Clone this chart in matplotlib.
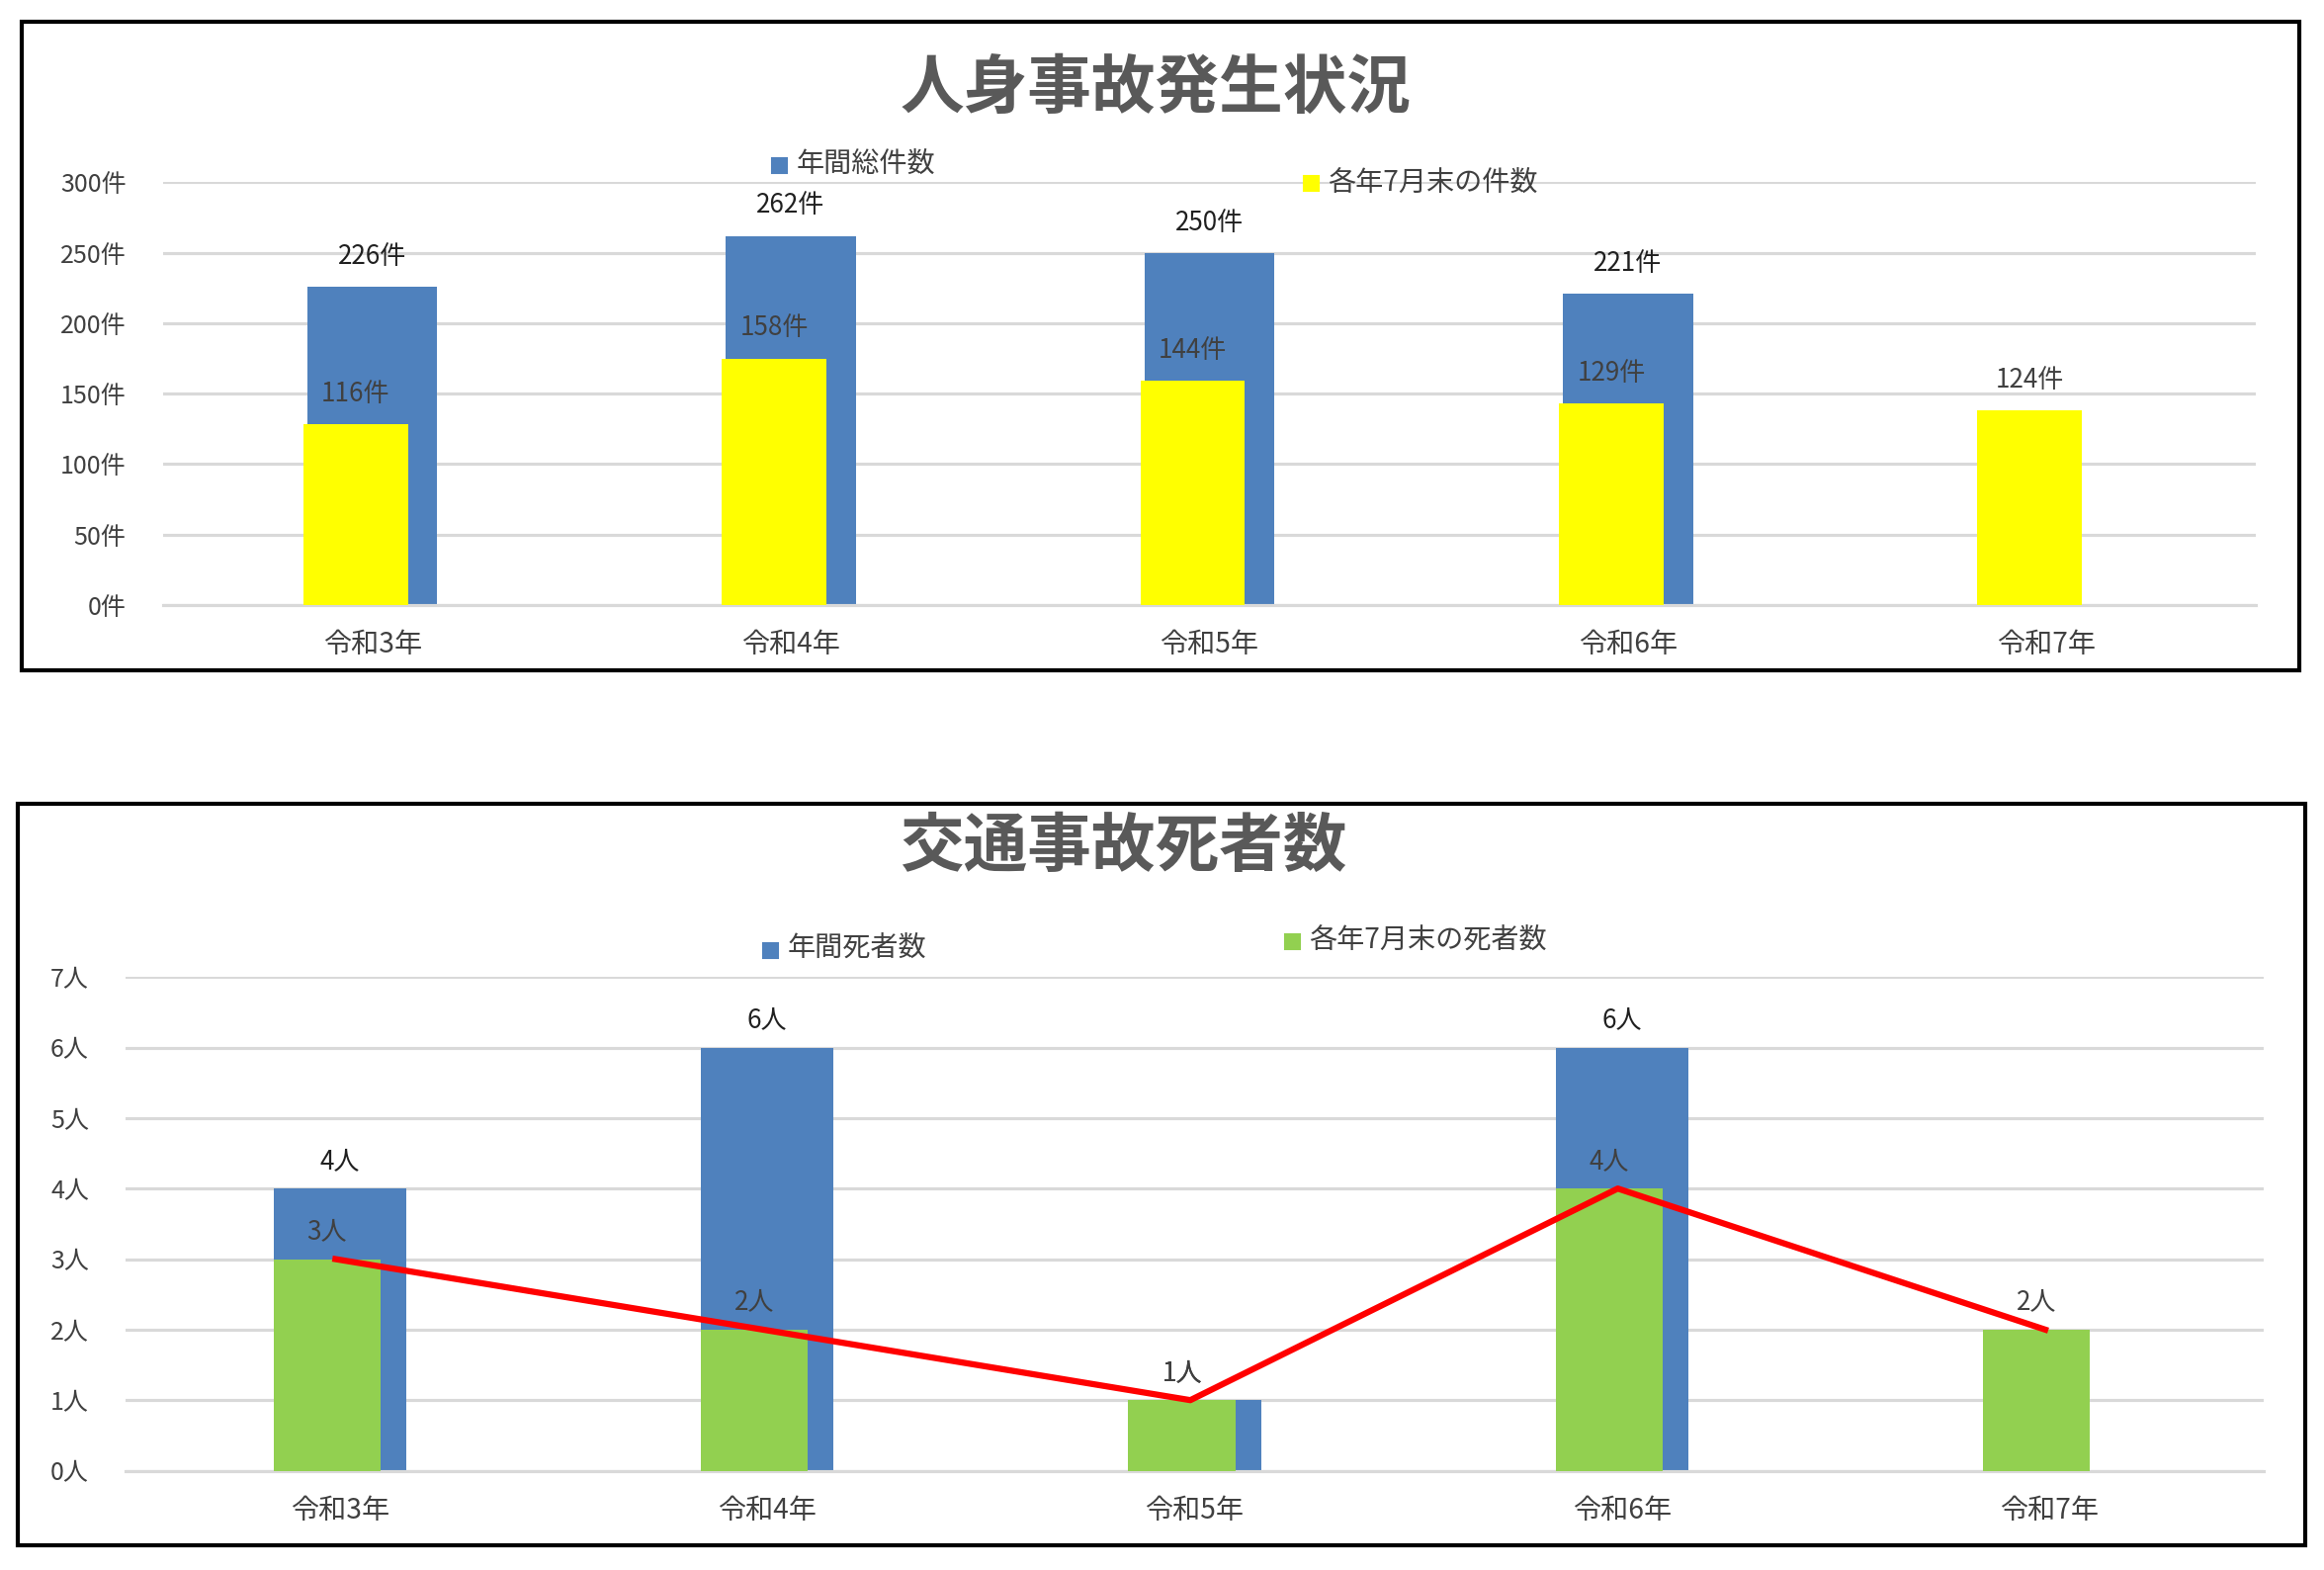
import matplotlib
matplotlib.use("Agg")
import matplotlib.pyplot as plt
import numpy as np
from matplotlib.patches import Rectangle

plt.rcParams["font.family"] = "Noto Sans CJK JP"

categories = ["令和3年", "令和4年", "令和5年", "令和6年", "令和7年"]
annual_total = [226, 262, 250, 221, None]
july_bar = [128, 175, 159, 143, 138]
july_labels = [116, 158, 144, 129, 124]
acc_yticks = [0, 50, 100, 150, 200, 250, 300]

annual_deaths = [4, 6, 1, 6, None]
july_deaths = [3, 2, 1, 4, 2]
death_yticks = [0, 1, 2, 3, 4, 5, 6, 7]

W, H = 1568, 1059
fig = plt.figure(figsize=(2351/150, 1588/150), dpi=150)

def rect(x0, y0, x1, y1):
    return [x0/W, 1-y1/H, (x1-x0)/W, (y1-y0)/H]

BLUE = "#4f81bd"
YEL = "#ffff00"
GRN = "#92d050"
TXT = "#404040"

for (x0, y0, x1, y1) in [(15, 15, 1551, 452), (12, 542, 1555, 1042)]:
    fig.patches.append(Rectangle((x0/W, 1-y1/H), (x1-x0)/W, (y1-y0)/H, transform=fig.transFigure,
                                 fill=False, edgecolor="black", linewidth=2))

def style(ax, yticks, unit):
    ax.set_yticks(yticks)
    ax.set_yticklabels([f"{v}{unit}" for v in yticks], color=TXT, fontsize=12)
    ax.set_xticks(range(len(categories)))
    ax.set_xticklabels(categories, color=TXT, fontsize=13.5)
    ax.grid(axis="y", color="#d9d9d9", linewidth=1.5)
    ax.set_axisbelow(True)
    for s in ["top", "right", "left"]:
        ax.spines[s].set_visible(False)
    ax.spines["bottom"].set_color("#d9d9d9")
    ax.spines["bottom"].set_linewidth(1.5)
    ax.tick_params(axis="x", length=0, pad=12)
    ax.tick_params(axis="y", length=0, pad=18)
    ax.set_xlim(-0.5, len(categories)-0.5)

x = np.arange(len(categories))

ax1 = fig.add_axes(rect(110, 123, 1522, 408))
for i, v in enumerate(annual_total):
    if v is not None:
        ax1.bar(i, v, width=0.31, color=BLUE, zorder=2)
        ax1.text(i, v + 12, f"{v}件", ha="center", va="bottom", fontsize=12.5, color="#202020")
for i, (v, lab) in enumerate(zip(july_bar, july_labels)):
    ax1.bar(i - 0.04, v, width=0.25, color=YEL, zorder=3)
    ax1.text(i - 0.04, v + 12, f"{lab}件", ha="center", va="bottom", fontsize=12.5, color=TXT, zorder=4)
ax1.set_ylim(0, 300)
style(ax1, acc_yticks, "件")
fig.text(780/W, 1-60/H, "人身事故発生状況", ha="center", va="center", fontsize=31, fontweight="bold", color="#595959")
fig.patches.append(Rectangle((521/W, 1-117/H), 10/W, 10/H, transform=fig.transFigure, color=BLUE))
fig.text(537/W, 1-111/H, "年間総件数", ha="left", va="center", fontsize=13.5, color=TXT)
fig.patches.append(Rectangle((880/W, 1-129/H), 10/W, 10/H, transform=fig.transFigure, color=YEL))
fig.text(896/W, 1-123/H, "各年7月末の件数", ha="left", va="center", fontsize=13.5, color=TXT)

ax2 = fig.add_axes(rect(85, 659, 1527, 992))
for i, v in enumerate(annual_deaths):
    if v is not None:
        ax2.bar(i, v, width=0.31, color=BLUE, zorder=2)
        lx = i - 0.03 if i == 2 else i
        ax2.text(lx, v + 0.2, f"{v}人", ha="center", va="bottom", fontsize=12.5, color="#202020")
for i, v in enumerate(july_deaths):
    ax2.bar(i - 0.03, v, width=0.25, color=GRN, zorder=3)
    ax2.text(i - 0.03, v + 0.2, f"{v}人", ha="center", va="bottom", fontsize=12.5, color=TXT, zorder=5)
ax2.plot(x - 0.01, july_deaths, color="#ff0000", linewidth=3, zorder=4)
ax2.set_ylim(0, 7)
style(ax2, death_yticks, "人")
fig.text(758/W, 1-572/H, "交通事故死者数", ha="center", va="center", fontsize=31, fontweight="bold", color="#595959")
fig.patches.append(Rectangle((515/W, 1-646/H), 10/W, 10/H, transform=fig.transFigure, color=BLUE))
fig.text(531/W, 1-640/H, "年間死者数", ha="left", va="center", fontsize=13.5, color=TXT)
fig.patches.append(Rectangle((867/W, 1-640/H), 10/W, 10/H, transform=fig.transFigure, color=GRN))
fig.text(883/W, 1-634/H, "各年7月末の死者数", ha="left", va="center", fontsize=13.5, color=TXT)

fig.savefig("out.png", dpi=150, facecolor="white")
